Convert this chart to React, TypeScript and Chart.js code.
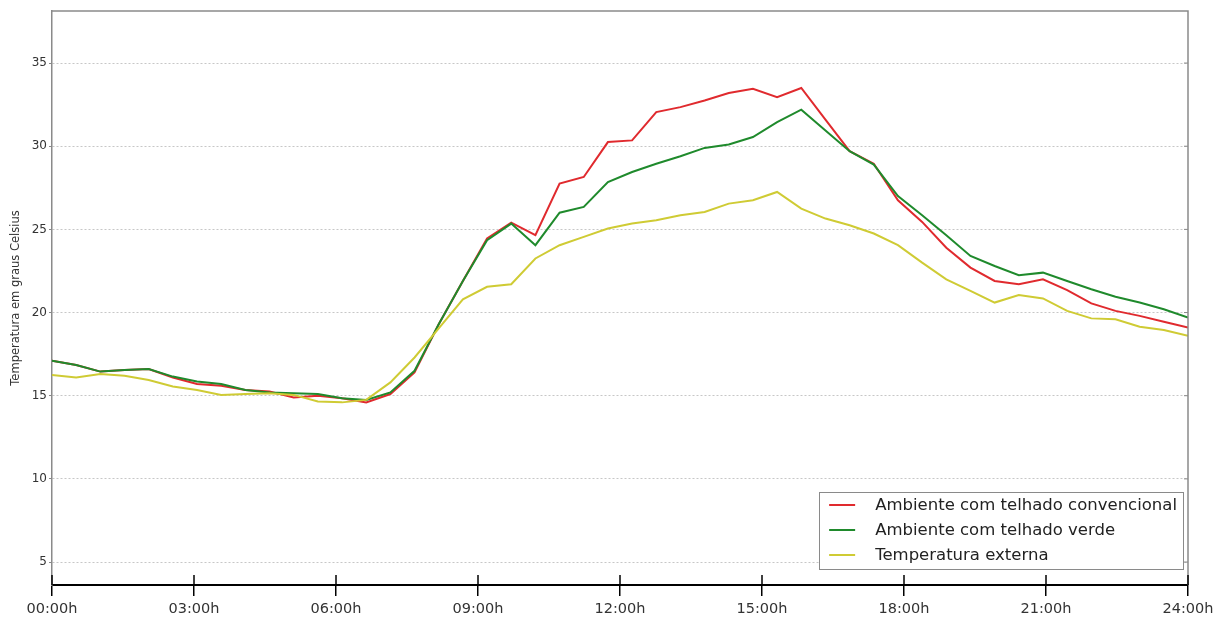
import React, { useEffect, useRef } from "react";
import { Chart, registerables } from "chart.js";

Chart.register(...registerables);

const tickLabels = ["00:00h", "03:00h", "06:00h", "09:00h", "12:00h", "15:00h", "18:00h", "21:00h", "24:00h"];
const seriesLabels = [
  "Ambiente com telhado convencional",
  "Ambiente com telhado verde",
  "Temperatura externa",
];
const seriesColors = ["#e02a2e", "#1f8a2c", "#cfcb34"];

const convencional = [
  17.1, 16.85, 16.45, 16.55, 16.6, 16.1, 15.7, 15.6, 15.35, 15.25, 14.9, 15.0,
  14.85, 14.6, 15.1, 16.4, 19.3, 21.9, 24.45, 25.4, 24.65, 27.75, 28.15, 30.25,
  30.35, 32.05, 32.35, 32.75, 33.2, 33.45, 32.95, 33.5, 31.6, 29.7, 28.95, 26.75,
  25.45, 23.9, 22.7, 21.9, 21.7, 22.0, 21.35, 20.55, 20.1, 19.8, 19.45, 19.1,
];
const verde = [
  17.1, 16.85, 16.45, 16.55, 16.6, 16.15, 15.85, 15.7, 15.35, 15.2, 15.15, 15.1,
  14.85, 14.75, 15.2, 16.5, 19.3, 21.9, 24.35, 25.35, 24.05, 26.0, 26.35, 27.85,
  28.45, 28.95, 29.4, 29.9, 30.1, 30.55, 31.45, 32.2, 30.95, 29.7, 28.9, 27.0,
  25.85, 24.65, 23.4, 22.8, 22.25, 22.4, 21.9, 21.4, 20.95, 20.6, 20.2, 19.7,
];
const externa = [
  16.25, 16.1, 16.3, 16.2, 15.95, 15.55, 15.35, 15.05, 15.1, 15.15, 15.05, 14.65,
  14.6, 14.75, 15.8, 17.3, 19.05, 20.8, 21.55, 21.7, 23.25, 24.05, 24.55, 25.05,
  25.35, 25.55, 25.85, 26.05, 26.55, 26.75, 27.25, 26.25, 25.65, 25.25, 24.75, 24.05,
  23.0, 22.0, 21.3, 20.6, 21.05, 20.85, 20.1, 19.65, 19.6, 19.15, 18.95, 18.6,
];
const yTickValues = [5, 10, 15, 20, 25, 30, 35];

const FONT = "'DejaVu Sans', Verdana, sans-serif";

const toPoints = (vals: number[]) =>
  vals.map((v, i) => ({ x: (i * 24) / (vals.length - 1), y: v }));

const framePlugin = {
  id: "frameAndLegend",
  afterDraw(chart: any) {
    const { ctx, chartArea } = chart;
    const xs = chart.scales.x;
    const ys = chart.scales.y;
    ctx.save();
    ctx.strokeStyle = "#8a8a8a";
    ctx.lineWidth = 1.5;
    ctx.beginPath();
    ctx.moveTo(chartArea.left, chartArea.top);
    ctx.lineTo(chartArea.right, chartArea.top);
    ctx.lineTo(chartArea.right, chartArea.bottom);
    ctx.stroke();
    ctx.lineWidth = 1;
    ys.ticks.forEach((t: any) => {
      const y = ys.getPixelForValue(t.value);
      ctx.beginPath();
      ctx.moveTo(chartArea.right, y);
      ctx.lineTo(chartArea.right - 4, y);
      ctx.stroke();
    });
    ctx.strokeStyle = "#000";
    ctx.lineWidth = 1.5;
    xs.ticks.forEach((t: any) => {
      const x = xs.getPixelForValue(t.value);
      ctx.beginPath();
      ctx.moveTo(x, chartArea.bottom);
      ctx.lineTo(x, chartArea.bottom - 10);
      ctx.stroke();
    });

    const ds = chart.data.datasets;
    ctx.font = `16.5px ${FONT}`;
    const textW = Math.max(...ds.map((d: any) => ctx.measureText(d.label).width));
    const rowH = 25;
    const w = 10 + 26 + 20 + textW + 6;
    const h = rowH * ds.length + 2;
    const right = chartArea.right - 5;
    const bottom = chartArea.bottom - 16;
    const left = right - w;
    const top = bottom - h;
    ctx.fillStyle = "#fff";
    ctx.fillRect(left, top, w, h);
    ctx.strokeStyle = "#8a8a8a";
    ctx.lineWidth = 1;
    ctx.strokeRect(Math.round(left) + 0.5, Math.round(top) + 0.5, Math.round(w), Math.round(h));
    ds.forEach((d: any, i: number) => {
      const y = top + 13 + i * rowH;
      ctx.strokeStyle = d.borderColor;
      ctx.lineWidth = 2;
      ctx.beginPath();
      ctx.moveTo(left + 10, y);
      ctx.lineTo(left + 36, y);
      ctx.stroke();
      ctx.fillStyle = "#222";
      ctx.textBaseline = "middle";
      ctx.textAlign = "left";
      ctx.fillText(d.label, left + 56, y + 1);
    });
    ctx.restore();
  },
};

export default function App() {
  const ref = useRef<HTMLCanvasElement>(null);
  useEffect(() => {
    document.body.style.margin = "0";
    const series = [convencional, verde, externa];
    const chart = new Chart(ref.current as HTMLCanvasElement, {
      type: "line",
      data: {
        datasets: series.map((vals, i) => ({
          label: seriesLabels[i],
          data: toPoints(vals),
          borderColor: seriesColors[i],
          backgroundColor: seriesColors[i],
          borderWidth: 2,
          pointRadius: 0,
          tension: 0,
          fill: false,
          order: 3 - i,
        })),
      },
      options: {
        responsive: false,
        animation: false,
        layout: { padding: { top: 11, right: 26, left: 0, bottom: 0 } },
        plugins: {
          legend: { display: false },
          tooltip: { enabled: false },
        },
        scales: {
          x: {
            type: "linear",
            min: 0,
            max: 24,
            afterFit: (s: any) => {
              s.height = 39;
              s.paddingLeft = 0;
              s.paddingRight = 0;
            },
            afterBuildTicks: (s: any) => {
              s.ticks = tickLabels.map((_, i) => ({ value: i * 3 }));
            },
            ticks: {
              autoSkip: false,
              maxRotation: 0,
              padding: 5,
              color: "#333",
              font: { family: FONT, size: 14.5 },
              callback: (_v: any, i: number) => tickLabels[i],
            },
            grid: {
              display: true,
              drawOnChartArea: false,
              drawTicks: true,
              tickLength: 11,
              tickColor: "#000",
              lineWidth: 1.5,
            },
            border: { display: true, color: "#000", width: 2 },
          },
          y: {
            type: "linear",
            min: 3.62,
            max: 38.13,
            afterFit: (s: any) => {
              s.width = 52;
            },
            afterBuildTicks: (s: any) => {
              s.ticks = yTickValues.map((v) => ({ value: v }));
            },
            ticks: {
              padding: 2,
              color: "#333",
              font: { family: FONT, size: 12 },
            },
            grid: {
              color: "rgba(0,0,0,0.22)",
              lineWidth: 1,
              drawTicks: true,
              tickLength: 3,
              tickColor: "#888",
              tickBorderDash: [],
            },
            border: { display: true, color: "#8a8a8a", width: 1.5, dash: [2, 2] },
            title: {
              display: true,
              text: "Temperatura em graus Celsius",
              color: "#333",
              font: { family: FONT, size: 11.5 },
              padding: { top: 9, bottom: 0 },
            },
          },
        },
      },
      plugins: [framePlugin],
    });
    return () => chart.destroy();
  }, []);
  return (
    <div style={{ width: 1214, height: 624 }}>
      <canvas ref={ref} width={1214} height={624} style={{ display: "block" }} />
    </div>
  );
}
